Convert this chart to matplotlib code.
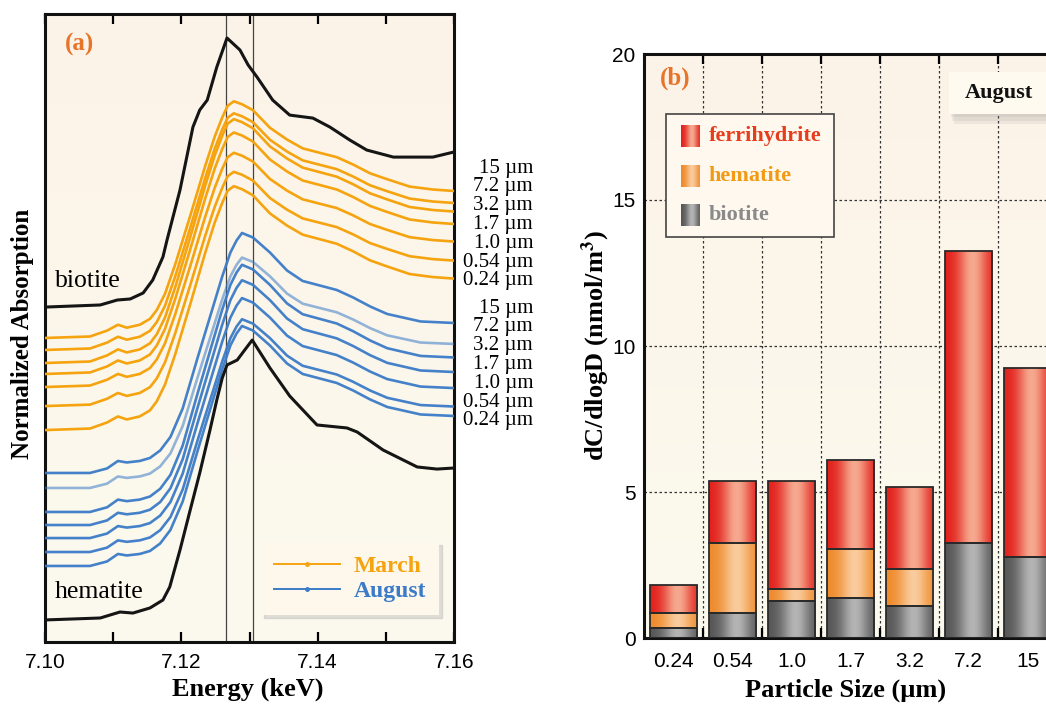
import numpy as np
import matplotlib
matplotlib.use('Agg')
import matplotlib.pyplot as plt
from matplotlib.colors import LinearSegmentedColormap
from matplotlib.lines import Line2D
from matplotlib.patches import Rectangle

# ---------------- Panel (a) data: Fe K-edge XANES ----------------
sizes = ['15', '7.2', '3.2', '1.7', '1.0', '0.54', '0.24']

march_energy = [7.1000, 7.1066, 7.1091, 7.1107, 7.1120, 7.1139, 7.1154, 7.1164, 7.1176, 7.1191,
                7.1213, 7.1235, 7.1249, 7.1260, 7.1268, 7.1277, 7.1289, 7.1305, 7.1330, 7.1355,
                7.1378, 7.1403, 7.1428, 7.1452, 7.1477, 7.1502, 7.1535, 7.1569, 7.1600]
march_shape = [0.00, 0.01, 0.05, 0.09, 0.07, 0.09, 0.13, 0.19, 0.30, 0.50,
               0.83, 1.17, 1.37, 1.50, 1.58, 1.61, 1.59, 1.55, 1.43, 1.35,
               1.29, 1.26, 1.23, 1.18, 1.12, 1.08, 1.03, 1.01, 1.00]
march_offset = [2.027, 1.947, 1.860, 1.787, 1.700, 1.573, 1.413]
march_scale = [0.98, 0.98, 1.01, 1.00, 0.97, 0.97, 1.01]

august_energy = [7.1000, 7.1066, 7.1091, 7.1107, 7.1120, 7.1139, 7.1154, 7.1169, 7.1184, 7.1202,
                 7.1224, 7.1246, 7.1260, 7.1272, 7.1281, 7.1289, 7.1305, 7.1330, 7.1355, 7.1378,
                 7.1403, 7.1428, 7.1452, 7.1477, 7.1502, 7.1551, 7.1600]
august_shape = [0.00, 0.00, 0.03, 0.08, 0.07, 0.08, 0.10, 0.15, 0.24, 0.43,
                0.77, 1.10, 1.31, 1.47, 1.55, 1.60, 1.57, 1.47, 1.35, 1.28,
                1.25, 1.22, 1.17, 1.11, 1.06, 1.01, 1.00]
august_offset = [1.127, 1.027, 0.867, 0.780, 0.693, 0.600, 0.507]
august_scale = [1.00, 0.96, 1.03, 1.02, 1.00, 0.97, 1.00]

biotite_energy = [7.1000, 7.1081, 7.1106, 7.1125, 7.1144, 7.1158, 7.1173, 7.1179, 7.1198, 7.1217,
                  7.1227, 7.1238, 7.1252, 7.1267, 7.1286, 7.1298, 7.1311, 7.1334, 7.1359, 7.1393,
                  7.1418, 7.1447, 7.1472, 7.1511, 7.1569, 7.1600]
biotite_abs = [2.233, 2.247, 2.280, 2.287, 2.327, 2.413, 2.567, 2.680, 3.013, 3.433,
               3.547, 3.613, 3.833, 4.027, 3.947, 3.847, 3.767, 3.613, 3.513, 3.493,
               3.433, 3.347, 3.280, 3.233, 3.233, 3.267]

hematite_energy = [7.1000, 7.1081, 7.1110, 7.1129, 7.1154, 7.1173, 7.1183, 7.1198, 7.1213, 7.1227,
                   7.1242, 7.1252, 7.1260, 7.1267, 7.1282, 7.1293, 7.1304, 7.1330, 7.1359, 7.1399,
                   7.1443, 7.1458, 7.1496, 7.1546, 7.1575, 7.1600]
hematite_abs = [0.147, 0.160, 0.200, 0.193, 0.227, 0.280, 0.367, 0.613, 0.880, 1.127,
                1.413, 1.613, 1.760, 1.847, 1.880, 1.947, 2.013, 1.827, 1.640, 1.447,
                1.427, 1.400, 1.280, 1.167, 1.153, 1.160]

ref_lines = [7.1265, 7.1305]

# ---------------- Panel (b) data: size-resolved Fe species ----------------
categories = ['0.24', '0.54', '1.0', '1.7', '3.2', '7.2', '15']
biotite = [0.35, 0.85, 1.28, 1.36, 1.10, 3.24, 2.78]
hematite = [0.52, 2.39, 0.39, 1.69, 1.25, 0.0, 0.0]
ferrihydrite = [0.95, 2.15, 3.72, 3.03, 2.83, 10.01, 6.47]

# ---------------- styling ----------------
plt.rcParams['font.family'] = ['Liberation Sans', 'DejaVu Sans']
plt.rcParams['mathtext.fontset'] = 'stix'
SERIF = 'Liberation Serif'
ORANGE = '#F5A30F'
BLUE = '#3B7BC8'
PANEL = '#E8742A'

fig = plt.figure(figsize=(10.46, 7.04), dpi=100)


def background(ax, top='#FDF3E8', bottom='#FBFAEE'):
    cmap = LinearSegmentedColormap.from_list('bg', [bottom, top])
    g = np.linspace(0, 1, 256)[:, None]
    ax.imshow(g, extent=[0, 1, 0, 1], transform=ax.transAxes, origin='lower',
              aspect='auto', cmap=cmap, zorder=0, interpolation='bilinear')


# ================= Panel (a) =================
ax1 = fig.add_axes([45 / 1046, (704 - 642) / 704, 409 / 1046, 628 / 704])
background(ax1)

for i in range(7):
    y = march_offset[i] + march_scale[i] * np.asarray(march_shape)
    ax1.plot(march_energy, y, color=ORANGE, lw=1.9, zorder=3, solid_capstyle='round')
for i in range(7):
    y = august_offset[i] + august_scale[i] * np.asarray(august_shape)
    ax1.plot(august_energy, y, color=BLUE, lw=1.9, zorder=3,
             alpha=0.55 if i == 1 else 0.95)
ax1.plot(biotite_energy, biotite_abs, color='#151515', lw=2.2, zorder=4)
ax1.plot(hematite_energy, hematite_abs, color='#151515', lw=2.2, zorder=4)
for e in ref_lines:
    ax1.axvline(e, color='#444444', lw=0.9, zorder=2)

ax1.set_xlim(7.10, 7.16)
ax1.set_ylim(0, 4.187)
ax1.set_xticks([7.10, 7.12, 7.14, 7.16])
ax1.set_xticklabels(['7.10', '7.12', '7.14', '7.16'])
ax1.set_xticks([7.11, 7.13, 7.15], minor=True)
ax1.tick_params(axis='x', which='both', direction='in', top=True, bottom=True,
                length=7, width=1.6, labelsize=15, pad=8)
ax1.set_yticks([])
for s in ax1.spines.values():
    s.set_linewidth(2.2)
    s.set_color('#111111')

ax1.set_xlabel('Energy (keV)', fontfamily=SERIF, fontweight='bold', fontsize=19)
ax1.xaxis.set_label_coords(0.496, -0.057)
ax1.set_ylabel('Normalized Absorption', fontfamily=SERIF, fontweight='bold', fontsize=18)
ax1.yaxis.set_label_coords(-0.026, 0.49)

ax1.text(0.049, 0.952, '(a)', transform=ax1.transAxes, fontfamily=SERIF,
         fontweight='bold', fontsize=18, color=PANEL, va='center', ha='left')
ax1.text(7.1015, 2.407, 'biotite', fontfamily=SERIF, fontsize=18.5, va='center', ha='left', zorder=5)
ax1.text(7.1015, 0.333, 'hematite', fontfamily=SERIF, fontsize=18.5, va='center', ha='left', zorder=5)

# size labels to the right of panel (a)
tr = ax1.get_yaxis_transform()
x_lab = (533 - 45) / 409
for k, s in enumerate(sizes):
    ym = (642 - (168 + 18.8 * k)) / 150
    ya = (642 - (308 + 18.8 * k)) / 150
    ax1.text(x_lab, ym, s + ' µm', transform=tr, ha='right', va='center',
             fontfamily=SERIF, fontsize=15, clip_on=False)
    ax1.text(x_lab, ya, s + ' µm', transform=tr, ha='right', va='center',
             fontfamily=SERIF, fontsize=15, clip_on=False)

handles = [Line2D([], [], color=ORANGE, lw=1.4, marker='.', ms=5),
           Line2D([], [], color=BLUE, lw=1.4, marker='.', ms=5)]
leg = ax1.legend(handles, ['March', 'August'], loc='lower right',
                 bbox_to_anchor=(0.963, 0.043), borderaxespad=0,
                 prop=dict(family=SERIF, weight='bold', size=17),
                 labelcolor='linecolor', frameon=True, fancybox=False,
                 shadow={'color': '#bbbbbb', 'alpha': 0.45},
                 facecolor='#FEF8EC', edgecolor='none', framealpha=1,
                 handlelength=2.8, borderpad=0.55, labelspacing=0.15, handletextpad=0.55)
leg.set_zorder(10)

# ================= Panel (b) =================
ax2 = fig.add_axes([644 / 1046, (704 - 638) / 704, 413 / 1046, 584 / 704])
background(ax2)
ax2.set_axisbelow(True)

x = np.arange(len(categories))
b_bot = np.asarray(biotite)
h_bot = b_bot + np.asarray(hematite)

seg_styles = [
    (biotite, np.zeros(len(x)), '#555555', '#B4B4B4'),
    (hematite, b_bot, '#EE8A2A', '#FACB9C'),
    (ferrihydrite, h_bot, '#E21F1A', '#F6A98F'),
]


def grad_bar(ax, patch, c_edge, c_mid):
    x0, y0 = patch.get_x(), patch.get_y()
    w, h = patch.get_width(), patch.get_height()
    if h <= 0:
        return
    t = np.linspace(0, 1, 128)
    v = np.exp(-((t - 0.58) / 0.30) ** 2)
    cmap = LinearSegmentedColormap.from_list('g', [c_edge, c_mid])
    im = ax.imshow(v[None, :], extent=[x0, x0 + w, y0, y0 + h], cmap=cmap, vmin=0, vmax=1,
                   aspect='auto', interpolation='bilinear', zorder=2)
    im.set_clip_path(patch)


for vals, bottom, ce, cm in seg_styles:
    bars = ax2.bar(x, vals, bottom=bottom, width=0.8, facecolor='none',
                   edgecolor='#2a2a2a', linewidth=1.3, zorder=3)
    for p in bars.patches:
        grad_bar(ax2, p, ce, cm)

ax2.set_xlim(-0.5, 6.5)
ax2.set_ylim(0, 20)
ax2.set_xticks(np.arange(0.5, 6.0, 1.0))
ax2.set_xticklabels([])
ax2.set_xticks(x, minor=True)
ax2.set_xticklabels(categories, minor=True)
ax2.tick_params(axis='x', which='major', direction='in', top=True, bottom=True,
                length=7, width=1.6)
ax2.tick_params(axis='x', which='minor', length=0, labelsize=15, pad=10)
ax2.set_yticks([0, 5, 10, 15, 20])
ax2.tick_params(axis='y', length=0, labelsize=15, pad=6)
ax2.grid(axis='x', which='major', linestyle=(0, (2, 2)), color='#333333', lw=0.9)
ax2.grid(axis='y', which='major', linestyle=(0, (2, 2)), color='#333333', lw=0.9)
for s in ax2.spines.values():
    s.set_linewidth(2.2)
    s.set_color('#111111')

ax2.set_xlabel('Particle Size (µm)', fontfamily=SERIF, fontweight='bold', fontsize=19)
ax2.xaxis.set_label_coords(0.487, -0.070)
ax2.set_ylabel('dC/dlogD (nmol/m$^{\\mathbf{3}}$)', fontfamily=SERIF, fontweight='bold', fontsize=19)
ax2.yaxis.set_label_coords(-0.078, 0.5)

ax2.text(0.038, 0.959, '(b)', transform=ax2.transAxes, fontfamily=SERIF,
         fontweight='bold', fontsize=18, color=PANEL, va='center', ha='left', zorder=6)

# legend box (b)
ax2.add_patch(Rectangle((0.0533, 0.6866), 0.4067, 0.2104, transform=ax2.transAxes,
                        facecolor='#FEF8EE', edgecolor='#444444', lw=1.2, zorder=6))
leg_items = [('ferrihydrite', '#E21F1A', '#F6A98F', '#E63D1C', 0.8588),
             ('hematite', '#EE8A2A', '#FACB9C', '#F29A14', 0.7911),
             ('biotite', '#555555', '#B4B4B4', '#8A8A8A', 0.7243)]
for name, ce, cm, tc, yc in leg_items:
    t = np.linspace(0, 1, 64)
    v = np.exp(-((t - 0.58) / 0.30) ** 2)
    cmap = LinearSegmentedColormap.from_list('lg', [ce, cm])
    ax2.imshow(v[None, :], extent=[0.0896, 0.1356, yc - 0.0185, yc + 0.0185],
               transform=ax2.transAxes, cmap=cmap, vmin=0, vmax=1, aspect='auto',
               interpolation='bilinear', zorder=7)
    ax2.text(0.157, yc, name, transform=ax2.transAxes, fontfamily=SERIF, fontweight='bold',
             fontsize=16, color=tc, va='center', ha='left', zorder=7)

# "August" tag with soft shadow
for k, a in enumerate([0.10, 0.10, 0.10]):
    d = 0.004 * (k + 1)
    ax2.add_patch(Rectangle((0.7385 + d, 0.897 - 1.4 * d), 0.30, 0.072, transform=ax2.transAxes,
                            facecolor='#777777', alpha=a, edgecolor='none', zorder=6))
ax2.add_patch(Rectangle((0.7385, 0.897), 0.30, 0.072, transform=ax2.transAxes,
                        facecolor='#FEFAF0', edgecolor='none', zorder=7))
ax2.text(0.86, 0.933, 'August', transform=ax2.transAxes, fontfamily=SERIF, fontweight='bold',
         fontsize=16, color='#111111', va='center', ha='center', zorder=8)

ax2.set_xlim(-0.5, 6.5)
ax2.set_ylim(0, 20)
ax1.set_xlim(7.10, 7.16)
ax1.set_ylim(0, 4.187)

fig.savefig('out.png', dpi=100)
